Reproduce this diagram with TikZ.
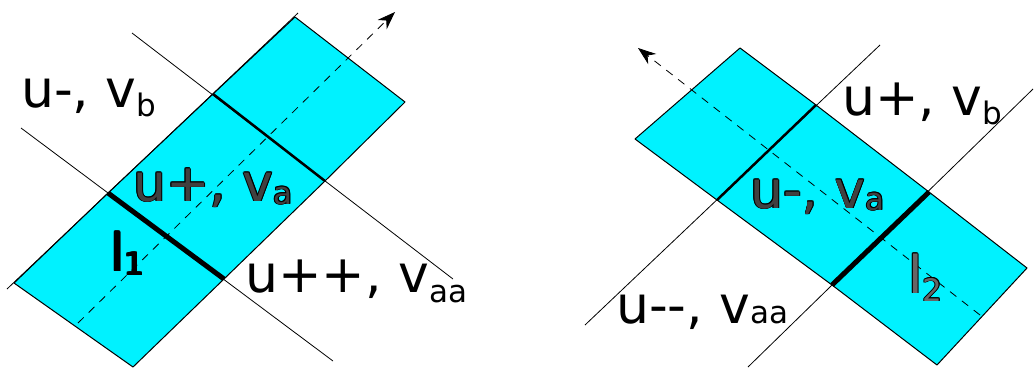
\documentclass[tikz,border=0pt]{standalone}
\usepackage{fontspec}
\setmainfont{DejaVu Sans}
\usetikzlibrary{arrows.meta,calc}
\definecolor{cell}{RGB}{0,242,255}
\newcommand{\bigtxt}{\fontsize{52}{60}\selectfont}
\newcommand{\smalltxt}{\fontsize{31}{36}\selectfont}
\newcommand{\lowsub}[2][9]{\raisebox{-#1pt}{\smalltxt #2}}
\begin{document}
\begin{tikzpicture}[x=1pt,y=-1pt,
  cellbox/.style={fill=cell,draw=black,line width=1pt,line join=round},
  thinline/.style={draw=black,line width=0.8pt},
  midsep/.style={draw=black,line width=2.5pt},
  thicksep/.style={draw=black,line width=5pt},
  flowarrow/.style={draw=black,line width=0.8pt,dash pattern=on 8pt off 7pt,-{Stealth[length=18pt,width=13pt]}},
  lab/.style={anchor=base west,inner sep=0pt,font=\bigtxt,text=black},
  emblab/.style={anchor=base west,inner sep=0pt,font=\bigtxt}]
\useasboundingbox (0,0) rectangle (1034,368);
% ---------- left figure ----------
\coordinate (A1) at (295,17);  \coordinate (B1) at (405,102);
\coordinate (A2) at (213,94);  \coordinate (B2) at (325,181);
\coordinate (A3) at (108,193); \coordinate (B3) at (224,279);
\coordinate (A4) at (14,283);  \coordinate (B4) at (133,367);
\coordinate (L1s) at (132,33);  \coordinate (L1e) at (453,279);
\coordinate (L2s) at (21,128);  \coordinate (L2e) at (333,361);
\coordinate (E1s) at (7,289);   \coordinate (E1e) at (298,13);
\coordinate (ArS) at (78,323);  \coordinate (ArE) at (395,12);
\path[cellbox] (A1) -- (B1) -- (B2) -- (A2) -- cycle;
\path[cellbox] (A2) -- (B2) -- (B3) -- (A3) -- cycle;
\path[cellbox] (A3) -- (B3) -- (B4) -- (A4) -- cycle;
\draw[thinline] (L1s) -- (L1e);
\draw[thinline] (L2s) -- (L2e);
\draw[thinline] (E1s) -- (E1e);
\draw[midsep] (A2) -- (B2);
\draw[thicksep] (A3) -- (B3);
\draw[flowarrow] (ArS) -- (ArE);
% ---------- right figure ----------
\coordinate (C1) at (740,48);  \coordinate (D1) at (635,139);
\coordinate (C2) at (816,105); \coordinate (D2) at (717,200);
\coordinate (C3) at (929,192); \coordinate (D3) at (832,285);
\coordinate (C4) at (1027,268);\coordinate (D4) at (937,365);
\coordinate (M1s) at (880,45);  \coordinate (M1e) at (585,325);
\coordinate (M2s) at (1033,89); \coordinate (M2e) at (748,367);
\coordinate (BrS) at (980,315); \coordinate (BrE) at (638,48);
\path[cellbox] (C1) -- (C2) -- (D2) -- (D1) -- cycle;
\path[cellbox] (C2) -- (C3) -- (D3) -- (D2) -- cycle;
\path[cellbox] (C3) -- (C4) -- (D4) -- (D3) -- cycle;
\draw[thinline] (M1s) -- (M1e);
\draw[thinline] (M2s) -- (M2e);
\draw[midsep] (C2) -- (D2);
\draw[thicksep] (C3) -- (D3);
\draw[flowarrow] (BrS) -- (BrE);
% ---------- labels ----------
\node[lab] (tUmVb) at (21,107) {u-, v\lowsub{b}};
\node[lab] (tUppVaa) at (245,292) {u++, v\lowsub[10]{aa}};
\node[lab] (tUpVb) at (842,115) {u+, v\lowsub{b}};
\node[lab] (tUmmVaa) at (616,323) {u-{}-, v{\smalltxt aa}};
\foreach \dx/\dy in {0.9/0,-0.9/0,0/0.9,0/-0.9,0.65/0.65,-0.65/0.65,0.65/-0.65,-0.65/-0.65}{
  \node[emblab,text=black] at ($(133,201)+(\dx,\dy)$) {u+, v\lowsub[3]{a}};
  \node[emblab,text=black] at ($(750,208)+(\dx,\dy)$) {u-, v\lowsub[2]{a}};
  \node[emblab,text=black] at ($(908,293)+(\dx,\dy)$) {l\lowsub[8]{2}};
  \node[emblab,text=black] at ($(110,271)+(\dx,\dy)$) {l\lowsub[4]{1}};
}
\node[emblab,text=black!75] (tUpVa) at (133,201) {u+, v\lowsub[3]{a}};
\node[emblab,text=black!75] (tUmVa) at (750,208) {u-, v\lowsub[2]{a}};
\node[emblab,text=black!60] (tL2) at (908,293) {l\lowsub[8]{2}};
\node[emblab,text=black] (tL1) at (110,271) {l\lowsub[4]{1}};
\end{tikzpicture}
\end{document}
